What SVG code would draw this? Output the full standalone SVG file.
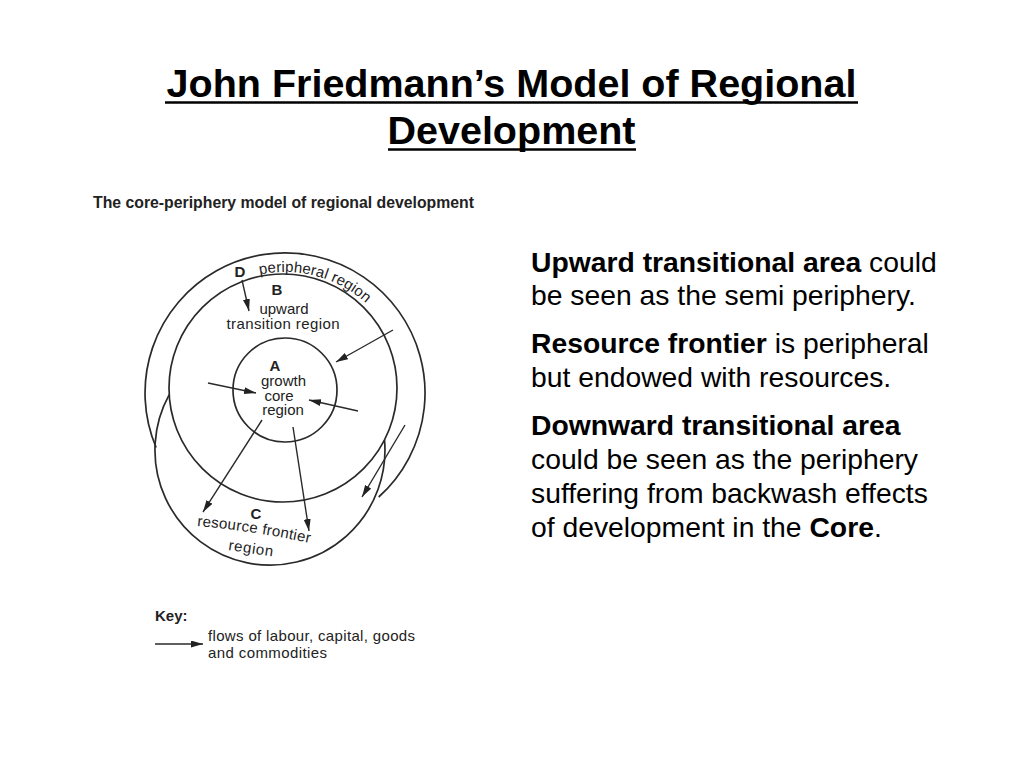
<svg xmlns="http://www.w3.org/2000/svg" width="1024" height="768" viewBox="0 0 1024 768">
  <style>
    .bg { fill: #ffffff; }
    .title { font-family: "Liberation Sans", Arial, sans-serif; font-weight: bold; font-size: 39.5px; fill: #000; }
    .uline { stroke: #000; stroke-width: 2.5; }
    .sub { font-family: "Liberation Sans", Arial, sans-serif; font-weight: bold; font-size: 15.8px; fill: #222; }
    .lbl { font-family: "Liberation Sans", Arial, sans-serif; font-size: 15px; fill: #222; }
    .lblb { font-family: "Liberation Sans", Arial, sans-serif; font-size: 15px; font-weight: bold; fill: #222; }
    .ring { fill: none; stroke: #2a2a2a; stroke-width: 1.7; }
    .flow { fill: none; stroke: #2a2a2a; stroke-width: 1.4; marker-end: url(#ah); }
    .body { font-family: "Liberation Sans", Arial, sans-serif; font-size: 28.3px; fill: #000; }
    .b { font-weight: bold; }
  </style>
  <defs>
    <marker id="ah" markerUnits="userSpaceOnUse" markerWidth="13" markerHeight="8" refX="12" refY="3.5" orient="auto">
      <path d="M0,0 L12,3.5 L0,7 z" fill="#222"/>
    </marker>
    <path id="pPeri" d="M259.8 274.6 A121 121 0 0 1 389.8 332.5"/>
    <path id="pRes" d="M197 526 Q 255 531 314 544"/>
    <path id="pReg" d="M228 550 L 276 557"/>
  </defs>
  <rect class="bg" x="0" y="0" width="1024" height="768"/>

  <g id="title">
    <text class="title" x="511.5" y="97" text-anchor="middle">John Friedmann’s Model of Regional</text>
    <text class="title" x="511.5" y="144" text-anchor="middle">Development</text>
    <line class="uline" x1="165" y1="102.5" x2="858" y2="102.5"/>
    <line class="uline" x1="388" y1="149.5" x2="636" y2="149.5"/>
  </g>

  <g id="subtitle">
    <text class="sub" x="93" y="208" textLength="381" lengthAdjust="spacingAndGlyphs">The core-periphery model of regional development</text>
  </g>

  <g id="region-D">
    <path class="ring" d="M156.1 447.5 A140 140 0 1 1 378.7 497"/>
    <text class="lblb" x="240" y="277" text-anchor="middle">D</text>
    <text class="lbl"><textPath href="#pPeri" textLength="114" lengthAdjust="spacing">peripheral region</textPath></text>
  </g>

  <g id="region-B">
    <circle class="ring" cx="283" cy="388" r="114"/>
    <text class="lblb" x="277" y="295" text-anchor="middle">B</text>
    <text class="lbl" x="284" y="314" text-anchor="middle">upward</text>
    <text class="lbl" x="283" y="329" text-anchor="middle" textLength="113" lengthAdjust="spacing">transition region</text>
  </g>

  <g id="region-C">
    <path class="ring" d="M169.2 394.7 A115 115 0 1 0 384.5 439.8"/>
    <text class="lblb" x="256" y="519" text-anchor="middle">C</text>
    <text class="lbl"><textPath href="#pRes" textLength="114" lengthAdjust="spacing">resource frontier</textPath></text>
    <text class="lbl"><textPath href="#pReg" textLength="45" lengthAdjust="spacing">region</textPath></text>
  </g>

  <g id="region-A">
    <circle class="ring" cx="285" cy="390" r="52"/>
    <text class="lblb" x="275" y="371" text-anchor="middle">A</text>
    <text class="lbl" x="283.5" y="386" text-anchor="middle">growth</text>
    <text class="lbl" x="279" y="401" text-anchor="middle">core</text>
    <text class="lbl" x="283" y="415" text-anchor="middle">region</text>
  </g>

  <g id="connectors">
    <line class="flow" x1="242" y1="280" x2="249" y2="311"/>
    <line class="flow" x1="393" y1="330" x2="336" y2="362"/>
    <line class="flow" x1="208" y1="383" x2="256" y2="393"/>
    <line class="flow" x1="358" y1="411" x2="309" y2="400"/>
    <line class="flow" x1="262" y1="420" x2="203" y2="512"/>
    <line class="flow" x1="293" y1="427" x2="309" y2="531"/>
    <line class="flow" x1="405" y1="425" x2="362" y2="497"/>
  </g>

  <g id="key">
    <text class="lblb" x="155" y="621">Key:</text>
    <line class="flow" x1="155" y1="644" x2="203" y2="644"/>
    <text class="lbl" x="208" y="641" textLength="207" lengthAdjust="spacing">flows of labour, capital, goods</text>
    <text class="lbl" x="208" y="658" textLength="119" lengthAdjust="spacing">and commodities</text>
  </g>

  <g id="description">
    <text class="body" x="531" y="272"><tspan class="b">Upward transitional area</tspan> could</text>
    <text class="body" x="531" y="305">be seen as the semi periphery.</text>
    <text class="body" x="531" y="353"><tspan class="b">Resource frontier</tspan> is peripheral</text>
    <text class="body" x="531" y="387">but endowed with resources.</text>
    <text class="body" x="531" y="435"><tspan class="b">Downward transitional area</tspan></text>
    <text class="body" x="531" y="469">could be seen as the periphery</text>
    <text class="body" x="531" y="503">suffering from backwash effects</text>
    <text class="body" x="531" y="537">of development in the <tspan class="b">Core</tspan>.</text>
  </g>
</svg>
